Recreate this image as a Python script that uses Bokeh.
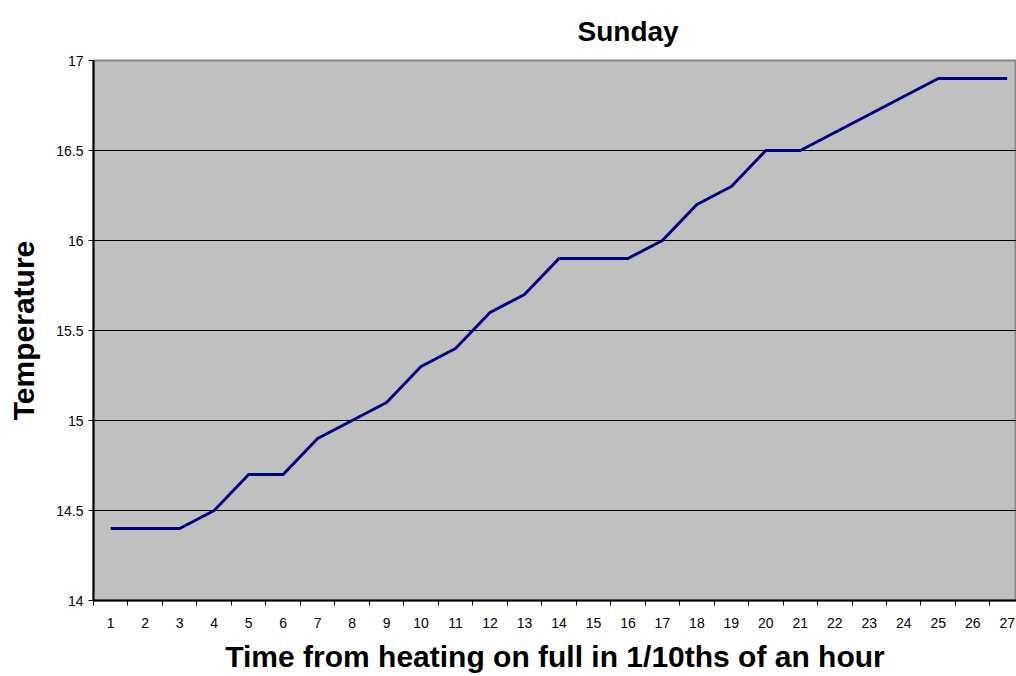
from bokeh.plotting import figure
from bokeh.models import FixedTicker, Range1d
from bokeh.embed import file_html
from bokeh.resources import INLINE

# Data
time_steps = list(range(1, 28))
temperature = [14.4, 14.4, 14.4, 14.5, 14.7, 14.7, 14.9, 15.0, 15.1, 15.3, 15.4, 15.6, 15.7,
               15.9, 15.9, 15.9, 16.0, 16.2, 16.3, 16.5, 16.5, 16.6, 16.7, 16.8, 16.9, 16.9, 16.9]
y_ticks = [14, 14.5, 15, 15.5, 16, 16.5, 17]
y_tick_labels = ["14", "14.5", "15", "15.5", "16", "16.5", "17"]
title_text = "Sunday"
x_title = "Time from heating on full in 1/10ths of an hour"
y_title = "Temperature"

FONT = "Liberation Sans"

p = figure(width=1016, height=676, output_backend="svg", toolbar_location=None,
           x_range=Range1d(0.5, 27.27), y_range=Range1d(14, 17),
           min_border_left=93, min_border_right=0, min_border_top=60, min_border_bottom=76,
           title=title_text)

p.background_fill_color = "#C0C0C0"
p.border_fill_color = "white"
p.outline_line_color = "#888888"
p.outline_line_width = 2

p.line(time_steps, temperature, line_color="#000080", line_width=3)

# Title: centred over the whole chart area (right of the plot centre)
p.title.text_font = FONT
p.title.text_font_size = "28px"
p.title.text_font_style = "bold"
p.title.text_color = "black"
p.title.align = "left"
p.title.offset = 484
p.title.vertical_align = "top"
p.title.standoff = 24

# x axis
xa = p.xaxis[0]
xa.ticker = FixedTicker(ticks=time_steps, minor_ticks=[t - 0.5 for t in time_steps])
xa.major_tick_out = 0
xa.major_tick_in = 0
xa.minor_tick_out = 5
xa.minor_tick_in = 0
xa.minor_tick_line_color = "black"
xa.axis_line_color = "black"
xa.axis_line_width = 2
xa.major_label_text_font = FONT
xa.major_label_text_font_size = "14px"
xa.major_label_text_color = "black"
xa.major_label_standoff = 12
xa.axis_label = x_title
xa.axis_label_text_font = FONT
xa.axis_label_text_font_size = "30px"
xa.axis_label_text_font_style = "bold"
xa.axis_label_text_color = "black"
xa.axis_label_standoff = 9

# y axis
ya = p.yaxis[0]
ya.ticker = FixedTicker(ticks=y_ticks)
ya.major_label_overrides = {t: s for t, s in zip(y_ticks, y_tick_labels)}
ya.major_tick_out = 5
ya.major_tick_in = 0
ya.minor_tick_out = 0
ya.minor_tick_in = 0
ya.axis_line_color = "black"
ya.axis_line_width = 2
ya.major_tick_line_color = "black"
ya.major_label_text_font = FONT
ya.major_label_text_font_size = "14px"
ya.major_label_text_color = "black"
ya.major_label_standoff = 5
ya.axis_label = y_title
ya.axis_label_text_font = FONT
ya.axis_label_text_font_size = "30px"
ya.axis_label_text_font_style = "bold"
ya.axis_label_text_color = "black"
ya.axis_label_standoff = 13

p.xgrid.visible = False
p.ygrid.ticker = FixedTicker(ticks=y_ticks[1:-1])
p.ygrid.grid_line_color = "black"
p.ygrid.grid_line_width = 1

open("out.html", "w").write(file_html(p, INLINE))
